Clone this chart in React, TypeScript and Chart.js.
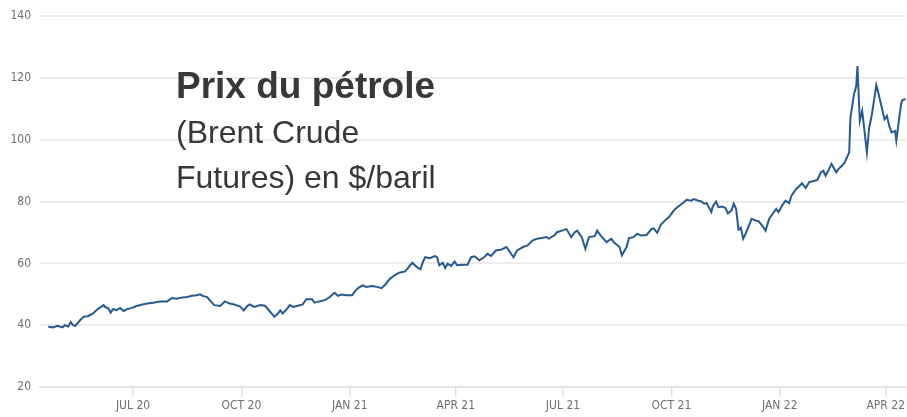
import React, { useEffect, useRef } from "react";
import { Chart, registerables } from "chart.js";

Chart.register(...registerables);

const titleLines = ["Prix du pétrole", "(Brent Crude", "Futures) en $/baril"];

// x ticks: days since 1 July 2020
const tickDays = [0, 92, 184, 274, 365, 457, 549, 639];
const tickLabels = ["JUL 20", "OCT 20", "JAN 21", "APR 21", "JUL 21", "OCT 21", "JAN 22", "APR 22"];
const yTicks = [20, 40, 60, 80, 100, 120, 140];

// days since 1 July 2020
const days = [
  -72, -68, -64, -60, -58, -55, -53, -51, -49, -45, -42, -38, -34, -30, -25, -24, -21, -19, -17, -14,
  -11, -8, -5, -1, 3, 8, 12, 17, 23, 29, 33, 37, 42, 46, 50, 54, 57, 59, 63, 65,
  69, 74, 78, 82, 86, 91, 94, 97, 99, 103, 108, 112, 114, 119, 120, 123, 125, 127, 131, 133,
  136, 140, 144, 147, 152, 154, 158, 163, 167, 171, 174, 177, 181, 186, 188, 191, 195, 198, 203, 207,
  211, 214, 218, 222, 226, 231, 233, 237, 241, 244, 246, 248, 252, 256, 258, 260, 263, 265, 267, 270,
  273, 275, 280, 284, 287, 290, 294, 298, 301, 304, 308, 313, 317, 319, 323, 326, 331, 335, 339, 343,
  347, 351, 353, 358, 360, 364, 368, 372, 375, 377, 381, 384, 387, 392, 394, 397, 402, 406, 408, 413,
  415, 419, 421, 425, 428, 431, 436, 440, 442, 445, 448, 453, 455, 459, 462, 466, 470, 474, 476, 480,
  482, 485, 487, 491, 492, 495, 497, 500, 503, 505, 508, 510, 512, 514, 516, 518, 520, 524, 525, 529,
  531, 534, 537, 540, 542, 546, 548, 551, 554, 557, 559, 563, 565, 568, 571, 574, 577, 581, 584, 586,
  588, 591, 593, 597, 599, 602, 604, 608, 609, 612, 614, 615, 617, 619, 620, 623, 625, 627, 629, 631,
  632, 635, 638, 640, 642, 644, 647, 648, 650, 652, 653, 656,
];

// Brent price, $/barrel
const prices = [
  39.5, 39.3, 39.8, 39.3, 40.0, 39.6, 41.0, 40.0, 39.8, 41.6, 42.7, 43.0, 43.8, 45.2, 46.5, 46.0, 45.4, 44.1, 45.2, 44.9,
  45.6, 44.6, 45.2, 45.6, 46.2, 46.7, 47.0, 47.3, 47.7, 47.7, 48.8, 48.6, 49.0, 49.1, 49.5, 49.7, 50.0, 49.5, 49.1, 48.1,
  46.5, 46.2, 47.7, 47.0, 46.7, 46.0, 44.8, 46.2, 46.7, 45.9, 46.5, 46.3, 45.4, 43.2, 42.7, 43.8, 44.8, 43.8, 45.4, 46.5,
  45.9, 46.3, 46.7, 48.4, 48.4, 47.3, 47.7, 48.1, 49.1, 50.5, 49.5, 49.9, 49.7, 49.7, 50.8, 52.0, 52.9, 52.4, 52.7, 52.4,
  52.0, 53.1, 55.0, 56.1, 57.0, 57.4, 58.3, 60.2, 58.8, 58.1, 60.4, 62.0, 61.7, 62.4, 62.1, 59.4, 60.2, 58.5, 59.9, 59.2,
  60.6, 59.4, 59.6, 59.6, 62.0, 62.3, 61.0, 62.0, 63.1, 62.4, 64.2, 64.5, 65.3, 64.2, 62.0, 64.2, 65.3, 65.8, 67.4, 68.0,
  68.2, 68.5, 68.0, 69.2, 70.1, 70.6, 71.1, 68.5, 70.1, 70.6, 68.5, 64.7, 68.5, 68.8, 70.6, 69.0, 66.9, 68.0, 66.9, 65.3,
  62.6, 65.3, 68.2, 68.5, 69.6, 69.0, 69.2, 71.1, 71.3, 69.9, 72.5, 74.4, 75.0, 77.1, 78.2, 79.3, 80.6, 80.3, 80.8, 80.3,
  80.1, 79.3, 79.5, 76.6, 78.4, 80.0, 78.2, 78.4, 77.9, 76.2, 77.1, 79.3, 77.6, 70.9, 71.5, 68.0, 69.6, 73.3, 74.4, 73.8,
  73.7, 72.3, 70.6, 74.4, 75.5, 77.6, 76.6, 78.7, 80.3, 79.5, 81.9, 84.1, 84.8, 85.9, 84.4, 86.3, 86.6, 87.0, 89.5, 90.0,
  88.4, 90.6, 92.2, 89.5, 90.6, 91.7, 92.5, 95.9, 107.0, 114.7, 117.4, 123.9, 106.1, 109.4, 106.1, 95.9, 104.0, 107.7, 112.6, 117.7,
  116.3, 111.5, 106.6, 107.7, 104.5, 102.4, 102.9, 99.7, 105.6, 111.5, 112.8, 113.2,
];

const labelFont = { family: '"DejaVu Sans Condensed", "Liberation Sans Narrow", "Liberation Sans", Arial, sans-serif', size: 12 };

const titlePlugin = {
  id: "insideTitle",
  afterDraw(chart: any) {
    const ctx = chart.ctx;
    ctx.save();
    ctx.fillStyle = "#383838";
    ctx.textAlign = "left";
    ctx.textBaseline = "alphabetic";
    ctx.font = 'bold 37px "Liberation Sans", Arial, sans-serif';
    ctx.fillText(titleLines[0], 176, 98);
    ctx.font = '32px "Liberation Sans", Arial, sans-serif';
    ctx.fillText(titleLines[1], 176, 143);
    ctx.fillText(titleLines[2], 176, 188);
    ctx.restore();
  },
};

export default function App() {
  const ref = useRef<HTMLCanvasElement | null>(null);

  useEffect(() => {
    if (!ref.current) return;
    const chart = new Chart(ref.current, {
      type: "line",
      data: {
        datasets: [
          {
            data: days.map((d, i) => ({ x: d, y: prices[i] })),
            borderColor: "#275b90",
            borderWidth: 2,
            pointRadius: 0,
            fill: false,
            tension: 0,
          },
        ],
      },
      options: {
        animation: false,
        responsive: false,
        devicePixelRatio: 1,
        layout: { padding: { top: 14, right: 0, left: 0, bottom: 0 } },
        plugins: { legend: { display: false }, tooltip: { enabled: false }, title: { display: false } },
        scales: {
          x: {
            type: "linear",
            min: -79,
            max: 656,
            afterBuildTicks: (s: any) => {
              s.ticks = tickDays.map((v) => ({ value: v }));
            },
            afterFit: (s: any) => {
              s.height = 30;
            },
            ticks: {
              callback: (_v: any, i: number) => tickLabels[i],
              font: labelFont,
              color: "#707070",
              padding: 2,
              maxRotation: 0,
              autoSkip: false,
            },
            grid: { drawOnChartArea: false, drawTicks: true, tickLength: 10, color: "#e2e2e2", lineWidth: 1.5 },
            border: { display: true, color: "#e2e2e2", width: 2 },
          },
          y: {
            min: 20,
            max: 140,
            afterBuildTicks: (s: any) => {
              s.ticks = yTicks.map((v) => ({ value: v }));
            },
            afterFit: (s: any) => {
              s.width = 40;
            },
            ticks: { font: labelFont, color: "#707070", padding: 9 },
            grid: { color: "#ececec", lineWidth: 2, drawTicks: false },
            border: { display: false },
          },
        },
      },
      plugins: [titlePlugin],
    } as any);
    return () => chart.destroy();
  }, []);

  return (
    <div style={{ position: "fixed", left: 0, top: 0, width: 907, height: 417, background: "#fff" }}>
      <canvas ref={ref} width={907} height={417} style={{ display: "block" }} />
    </div>
  );
}
